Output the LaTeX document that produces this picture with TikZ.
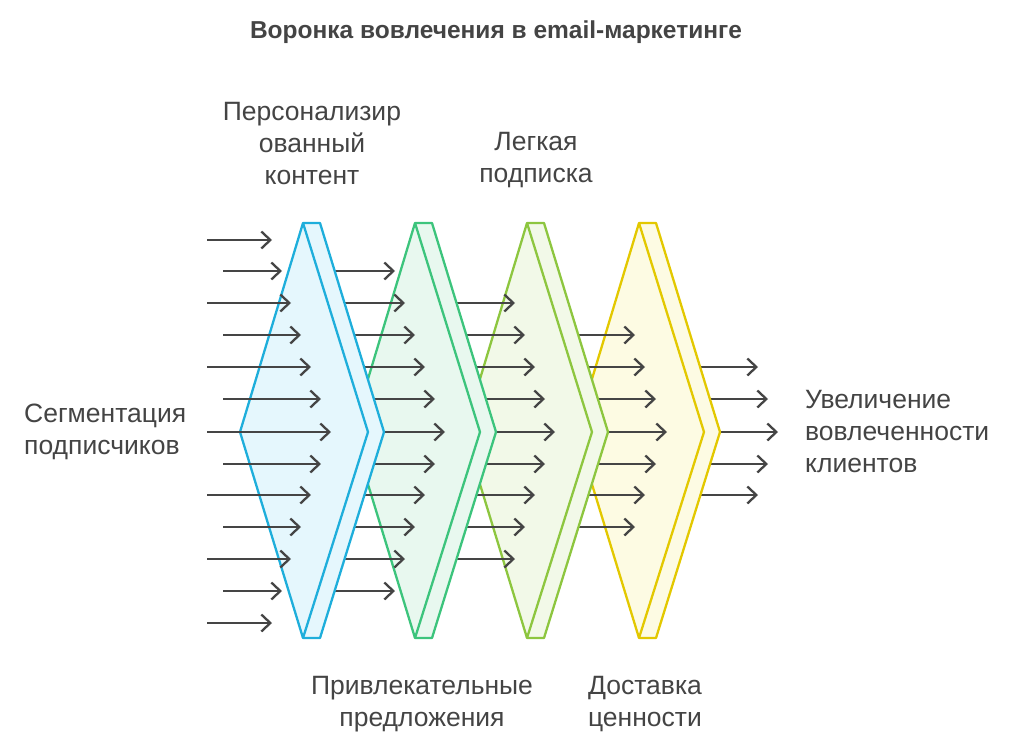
\documentclass[tikz,border=0pt]{standalone}
\usepackage{fontspec}
\setmainfont{Liberation Sans}
\usetikzlibrary{arrows.meta}
\definecolor{ar}{HTML}{454545}
\definecolor{c1}{HTML}{1EAEDB}\definecolor{f1}{HTML}{E5F7FD}
\definecolor{c2}{HTML}{3CC47C}\definecolor{f2}{HTML}{E8F8EF}
\definecolor{c3}{HTML}{8DC63F}\definecolor{f3}{HTML}{F2F9E8}
\definecolor{c4}{HTML}{E3C800}\definecolor{f4}{HTML}{FDFBE3}
\definecolor{tx}{HTML}{444444}
\begin{document}
\begin{tikzpicture}[x=1pt,y=-1pt,
  arr/.style={draw=ar,line width=2.3pt,-{Straight Barb[length=9pt,width=17pt,line width=2.3pt]}},
  lab/.style={text=tx,font=\fontsize{26.5}{32}\selectfont,align=center,inner sep=0pt},
  chev/.style={line width=2.3pt,line join=round}]
\useasboundingbox (0,0) rectangle (1024,752);
\newcommand\chevr[3]{%
  \begin{scope}[xshift=#1]
  \draw[chev,draw=#2,fill=#3] (303,223)--(320,223)--(384,432)--(320,638)--(303,638)--(240,432)--cycle;
  \draw[chev,draw=#2] (303,223)--(368,432)--(303,638);
  \end{scope}}
\foreach \y/\e in {367/758,399/768,432/778,464/768,495/758}{
  \coordinate (s) at (700,\y); \coordinate (e) at (\e,\y); \draw[arr] (s)--(e);}
\chevr{336pt}{c4}{f4}
\foreach \y/\e in {335/635,367/645,399/656,432/667,464/656,495/645,527/635}{
  \coordinate (s) at (570,\y); \coordinate (e) at (\e,\y); \draw[arr] (s)--(e);}
\chevr{224pt}{c3}{f3}
\foreach \y/\e in {303/515,335/525,367/535,399/545,432/555,464/545,495/535,527/525,559/515}{
  \coordinate (s) at (450,\y); \coordinate (e) at (\e,\y); \draw[arr] (s)--(e);}
\chevr{112pt}{c2}{f2}
\foreach \y/\e in {271/395,303/405,335/415,367/425,399/435,432/445,464/435,495/425,527/415,559/405,591/395}{
  \coordinate (s) at (335,\y); \coordinate (e) at (\e,\y); \draw[arr] (s)--(e);}
\chevr{0pt}{c1}{f1}
\foreach \y/\x/\e in {240/207/272,271/223/282,303/207/291,335/223/301,367/207/311,399/223/321,432/207/331,464/223/321,495/207/311,527/223/301,559/207/291,591/223/282,623/207/272}{
  \coordinate (s) at (\x,\y); \coordinate (e) at (\e,\y); \draw[arr] (s)--(e);}
\node[text=tx,font=\fontsize{24.5}{28}\selectfont\bfseries] (t) at (496,32) {Воронка вовлечения в email-маркетинге};
\node[lab] (l1) at (312,144) {Персонализир\\ованный\\контент};
\node[lab] (l2) at (536,160) {Легкая\\подписка};
\node[lab] (l3) at (422,704) {Привлекательные\\предложения};
\node[lab] (l4) at (645,704) {Доставка\\ценности};
\node[lab,align=left,anchor=west] (l5) at (24,432) {Сегментация\\подписчиков};
\node[lab,align=left,anchor=west] (l6) at (805,432) {Увеличение\\вовлеченности\\клиентов};
\end{tikzpicture}
\end{document}
